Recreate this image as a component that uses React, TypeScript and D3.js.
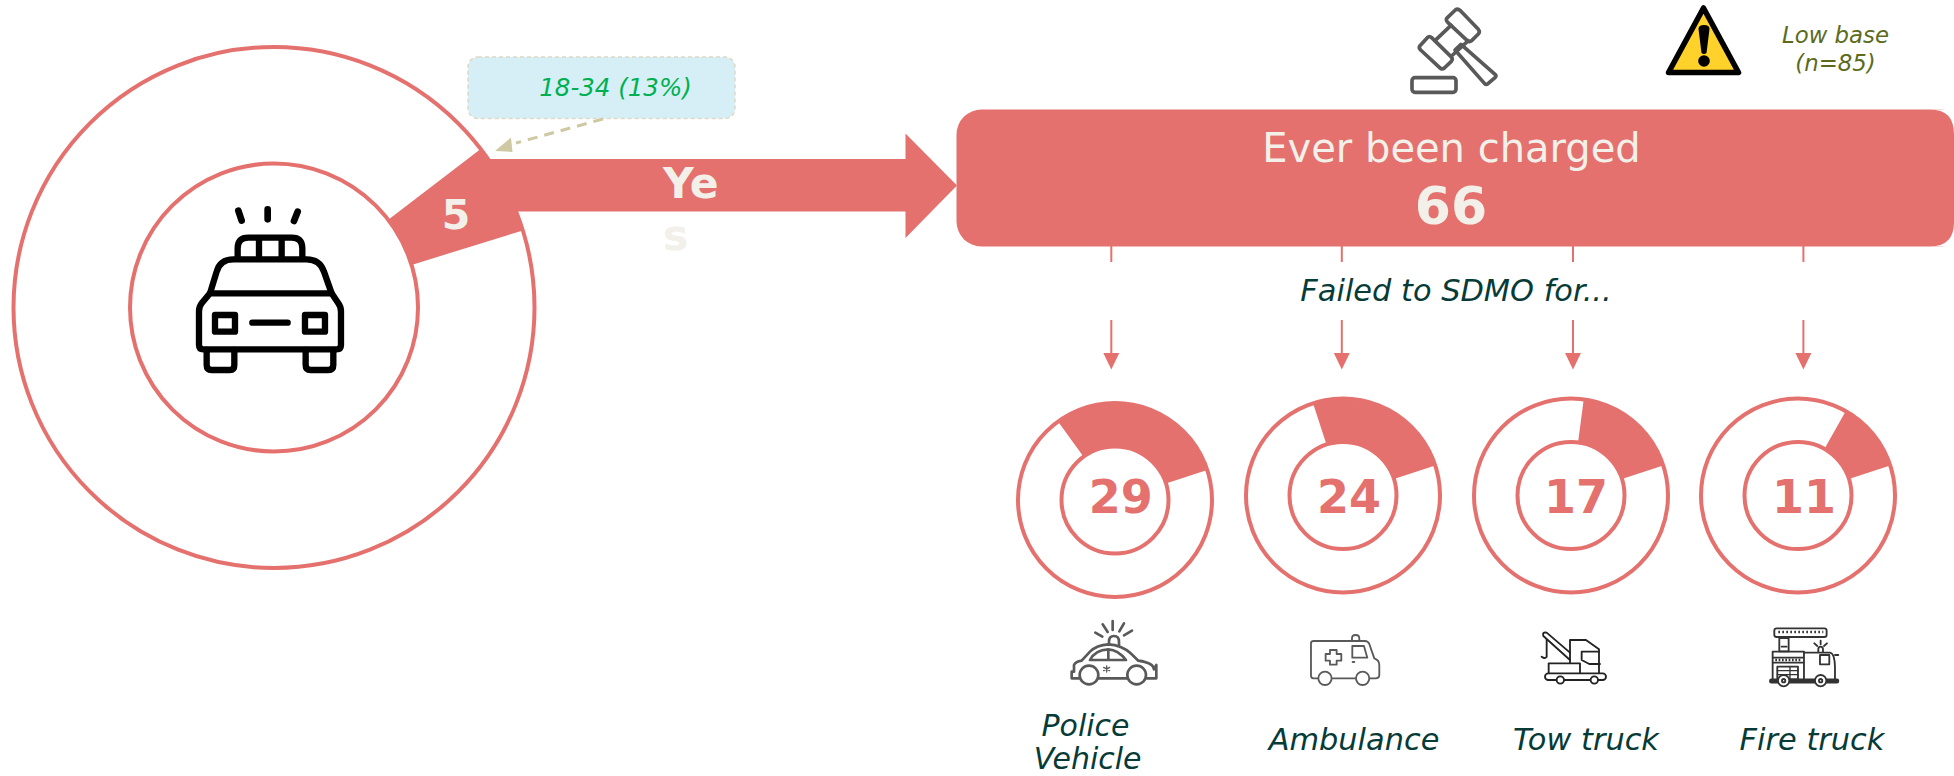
import React from "react";
import * as d3 from "d3";

const RED = "#E4716E";
const CREAM = "#F2F0E9";
const TEAL = "#063B38";
const ICON = "#595959";
const FONT = "'DejaVu Sans', Verdana, sans-serif";

// Data
const mainValueLabel = "5";
const mainShare = 5.64;
const mainEndAngle = 72.8;
const categories = ["Police Vehicle", "Ambulance", "Tow truck", "Fire truck"];
const categoryLines = [["Police", "Vehicle"], ["Ambulance"], ["Tow truck"], ["Fire truck"]];
const categoryValues = [29, 24, 17, 11];
const categoryShares = [30, 25, 17.9, 11.8];
const smallEndAngle = 72;
const headline = "Ever been charged";
const headlineValue = "66";
const subhead = "Failed to SDMO for...";
const calloutText = "18-34 (13%)";
const lowBaseLines = ["Low base", "(n=85)"];

// Layout
const W = 1954, H = 776;
const ringCx = [1115, 1343, 1571, 1798];
const ringCy = [500, 495.5, 495.5, 495.5];
const numX = [1120.7, 1349, 1576, 1804];
const connX = [1111.3, 1341.8, 1573, 1803.4];
const labelX = [[1085.5, 1087.6], [1354], [1586], [1812]];
const labelY = [[735.7, 768.5], [750], [750], [750]];

const angle = d3.scaleLinear().domain([0, 100]).range([0, 2 * Math.PI]);
const toRad = (deg: number) => (deg * Math.PI) / 180;

function wedge(share: number, endDeg: number, r0: number, r1: number) {
  const end = toRad(endDeg);
  return d3.arc()({ innerRadius: r0, outerRadius: r1, startAngle: end - angle(share), endAngle: end } as any) as string;
}

function Donut({ cx, cy, r0, r1, share, end, sw }: any) {
  return (
    <g transform={`translate(${cx},${cy})`}>
      <path d={wedge(share, end, r0, r1)} fill={RED} />
      <circle r={r1} fill="none" stroke={RED} strokeWidth={sw} />
      <circle r={r0} fill="none" stroke={RED} strokeWidth={sw} />
    </g>
  );
}

function BigCar() {
  return (
    <g transform="translate(170,190) scale(0.3333)" fill="none" stroke="#000" strokeWidth={19} strokeLinecap="round" strokeLinejoin="round">
      <path d="M205 62L215 92M293 58V88M383 65L372 93" strokeWidth={20} />
      <path d="M203 205V175Q203 143 235 143H365Q397 143 397 175V205M267 143V205M335 143V205" />
      <path d="M120 310L140 245Q150 208 190 208H410Q450 208 462 245L485 310" />
      <path d="M120 310L95 340Q87 350 87 365V465Q87 478 100 478H500Q513 478 513 465V365Q513 350 505 340L485 310Z" />
      <rect x={135} y={375} width={60} height={50} />
      <rect x={405} y={375} width={60} height={50} />
      <path d="M247 398H353" />
      <path d="M110 480V525Q110 540 125 540H180Q193 540 193 525V480M407 480V525Q407 540 422 540H475Q490 540 490 525V480" />
    </g>
  );
}

function Gavel() {
  return (
    <g transform="translate(1390,0) scale(0.3333)" fill="none" stroke={ICON} strokeWidth={11} strokeLinejoin="round" strokeLinecap="round">
      <rect x={66} y={233} width={132} height={44} rx={9} />
      <path d="M170 55L196 30Q203 25 210 31L265 88Q271 95 265 102L245 122Q238 128 231 121L174 68Q167 61 170 55Z" />
      <path d="M90 137L112 113Q118 107 125 113L183 170Q190 177 184 184L163 204Q156 210 149 203L92 150Q85 144 90 137Z" />
      <path d="M135 122L183 76M188 165L235 122" />
      <path d="M195 150L213 133L316 224Q320 228 316 232L293 252Q288 255 284 251Z" />
    </g>
  );
}

function Warning() {
  return (
    <g>
      <path d="M1703.5 8L1738.5 72.5H1668.5Z" fill="#FFD22B" stroke="#000" strokeWidth={5.5} strokeLinejoin="round" />
      <path d="M1698.5 29Q1698.5 25 1704 25Q1709.5 25 1709.5 29L1706.5 53Q1704 55 1701.5 53Z" fill="#000" />
      <circle cx={1704} cy={61} r={5.8} fill="#000" />
    </g>
  );
}

function PoliceIcon() {
  return (
    <g transform="translate(1040,610) scale(0.3333)" fill="none" stroke={ICON} strokeWidth={8} strokeLinecap="round" strokeLinejoin="round">
      <path d="M118 205H95V185H102V165Q107 155 125 152L150 125Q170 105 205 103Q245 105 272 130L295 152Q340 158 342 178L349 165V205H320M175 205H262" />
      <circle cx={147} cy={195} r={28} fill="#fff" />
      <circle cx={290} cy={195} r={28} fill="#fff" />
      <path d="M150 150Q165 120 205 118V150ZM205 118Q235 120 258 150H205Z" />
      <path d="M200 168V186M191 172L209 182M209 172L191 182" strokeWidth={4} />
      <path d="M207 103V95Q207 78 222 78Q237 78 237 95V105" />
      <path d="M166 68L187 80M188 43L203 66M218 33V60M252 40L238 64M276 62L252 76" />
    </g>
  );
}

function AmbulanceIcon() {
  return (
    <g transform="translate(1040,610) scale(0.3333)" fill="none" stroke={ICON} strokeWidth={5.5} strokeLinecap="round" strokeLinejoin="round">
      <path d="M835 205H820Q813 205 813 196V100Q813 93 822 93H975Q984 93 988 102L1003 145Q1018 150 1018 165V195Q1018 205 1006 205H990M878 205H947" />
      <circle cx={855} cy={205} r={20} fill="#fff" />
      <circle cx={968} cy={205} r={20} fill="#fff" />
      <path d="M870 120H890V132H904V152H890V164H870V152H857V132H870Z" />
      <path d="M937 108H972L982 143H937Z" />
      <path d="M936 91V85Q936 75 947 75Q958 75 958 85V92" />
      <path d="M938 156H943" />
    </g>
  );
}

function TowIcon() {
  return (
    <g transform="translate(1500,610) scale(0.3333)" fill="none" stroke="#222" strokeWidth={5.5} strokeLinecap="round" strokeLinejoin="round">
      <path d="M130 78Q126 65 140 68L210 128V150L130 78" />
      <path d="M140 88V140Q135 148 125 140" />
      <path d="M210 128V90H258L297 118V190" />
      <path d="M245 125H297M245 125V150L268 162H300" />
      <path d="M146 190V160H210V150M210 160H240V190" />
      <rect x={135} y={190} width={183} height={20} rx={10} fill="#fff" />
      <circle cx={181} cy={210} r={11} fill="#fff" />
      <circle cx={283} cy={210} r={11} fill="#fff" />
    </g>
  );
}

function FireIcon() {
  return (
    <g transform="translate(1500,610) scale(0.3333)" fill="none" stroke="#333" strokeWidth={5.5} strokeLinecap="round" strokeLinejoin="round">
      <rect x={823} y={55} width={157} height={26} rx={7} />
      <path d="M835 66H970" strokeDasharray="5 7" strokeLinecap="butt" strokeWidth={7} />
      <rect x={838} y={84} width={28} height={40} />
      <path d="M845 110H860" />
      <path d="M818 210V125H912V210" />
      <path d="M820 143H910M820 158H910" />
      <path d="M826 150H905" strokeDasharray="5 5" strokeLinecap="butt" strokeWidth={7} />
      <rect x={832} y={170} width={62} height={38} />
      <path d="M832 182H894M832 194H894M870 170V208" strokeWidth={4} />
      <path d="M912 128H990Q1004 130 1005 170V210" />
      <rect x={960} y={135} width={28} height={28} />
      <path d="M955 126V118Q955 110 962 110Q969 110 969 118V126" />
      <path d="M943 100L952 108M962 92V103M981 100L972 108M1005 135H1015" />
      <rect x={810} y={208} width={205} height={10} rx={4} fill="#333" />
      <circle cx={851} cy={212} r={17} fill="#fff" />
      <circle cx={851} cy={212} r={5} />
      <circle cx={962} cy={212} r={17} fill="#fff" />
      <circle cx={962} cy={212} r={5} />
    </g>
  );
}

export default function App() {
  return (
    <svg
      width={W}
      height={H}
      viewBox={`0 0 ${W} ${H}`}
      style={{ position: "absolute", left: 0, top: 0, display: "block", background: "#fff" }}
      fontFamily={FONT}
    >
      <title>{categories.join(", ")}</title>
      {/* Arrow */}
      <path d="M470 159H905.5V133.5L957 185.5L905.5 238V211.5H470Z" fill={RED} />
      <Donut cx={274} cy={307.5} r0={144} r1={260.5} share={mainShare} end={mainEndAngle} sw={4} />
      <BigCar />
      <text x={456} y={228.5} textAnchor="middle" fontWeight={700} fontSize={41} fill={CREAM}>{mainValueLabel}</text>
      <text x={663} y={198} fontWeight={700} fontSize={42.5} fill={CREAM}>Ye</text>
      <text x={663} y={250} fontWeight={700} fontSize={42.5} fill={CREAM}>s</text>

      {/* Callout */}
      <rect x={468} y={57} width={267} height={61.5} rx={10} fill="#D6EFF7" stroke="#DDD9C3" strokeWidth={1.5} strokeDasharray="4 3" />
      <text x={615.5} y={96} textAnchor="middle" fontStyle="italic" fontSize={24.5} fill="#00B050">{calloutText}</text>
      <path d="M603 119L516 143" fill="none" stroke="#CFC9A3" strokeWidth={3} strokeDasharray="10 7" />
      <path d="M495 151L511 137.5L512.5 152Z" fill="#CFC9A3" />

      {/* Header box */}
      <rect x={956.5} y={109.5} width={1010} height={137} rx={25} fill={RED} />
      <path d="M1954 109.5V246.5H1930Q1954 246.5 1954 222V134Q1954 109.5 1930 109.5Z" fill="#fff" />
      <text x={1451.5} y={162} textAnchor="middle" fontSize={40} fill={CREAM}>{headline}</text>
      <text x={1451} y={224} textAnchor="middle" fontWeight={700} fontSize={52} fill={CREAM}>{headlineValue}</text>
      <Gavel />
      <Warning />
      <g fontStyle="italic" fontSize={22.8} fill="#5C6B1B" textAnchor="middle">
        {lowBaseLines.map((t, i) => (
          <text key={t} x={1835.5} y={42.5 + i * 28.2}>{t}</text>
        ))}
      </g>

      <text x={1456} y={301} textAnchor="middle" fontStyle="italic" fontSize={30.4} fill={TEAL}>{subhead}</text>

      {/* Connectors and small donuts */}
      {categoryValues.map((v, i) => (
        <g key={categories[i]}>
          <path d={`M${connX[i]} 246V262M${connX[i]} 320V355`} stroke={RED} strokeWidth={2} fill="none" />
          <path d={`M${connX[i] - 8} 353H${connX[i] + 8}L${connX[i]} 369.5Z`} fill={RED} />
          <Donut cx={ringCx[i]} cy={ringCy[i]} r0={53.5} r1={97} share={categoryShares[i]} end={smallEndAngle} sw={4} />
          <text x={numX[i]} y={513.3} textAnchor="middle" fontWeight={700} fontSize={46} fill={RED}>{v}</text>
          {categoryLines[i].map((line, j) => (
            <text key={line} x={labelX[i][j]} y={labelY[i][j]} textAnchor="middle" fontStyle="italic" fontSize={i === 0 ? 30 : 30.4} fill={TEAL}>{line}</text>
          ))}
        </g>
      ))}
      <PoliceIcon />
      <AmbulanceIcon />
      <TowIcon />
      <FireIcon />
    </svg>
  );
}
